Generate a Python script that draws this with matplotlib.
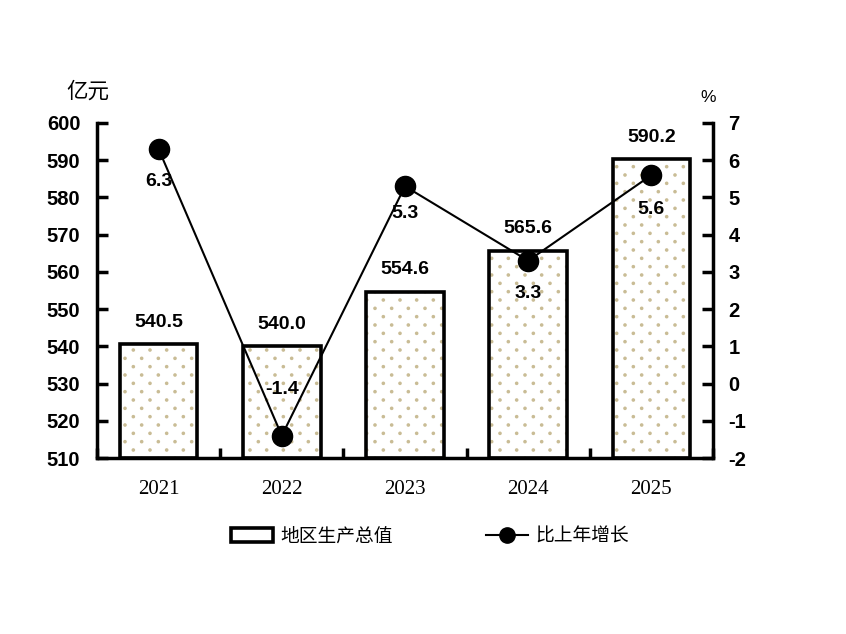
import matplotlib
matplotlib.use("Agg")
import matplotlib.pyplot as plt
from matplotlib.patches import Patch
from matplotlib.lines import Line2D
from matplotlib.path import Path
import matplotlib.hatch as mhatch
import numpy as np

years = ["2021", "2022", "2023", "2024", "2025"]
gdp = [540.5, 540.0, 554.6, 565.6, 590.2]
growth = [6.3, -1.4, 5.3, 3.3, 5.6]
left_ticks = [510, 520, 530, 540, 550, 560, 570, 580, 590, 600]
right_ticks = [-2, -1, 0, 1, 2, 3, 4, 5, 6, 7]
growth_offsets = [-32, 46, -27, -33, -34]  # label offsets in px (negative = below)


# custom staggered small-dot hatch for '.' (6 columns, 12 staggered rows per unit)
class _StaggeredDots(mhatch.HatchPatternBase):
    filled = True
    radius = 0.011

    def __init__(self, hatch, density):
        n = hatch.count('.')
        self.ncols = 6 * n
        self.nrows = 12 * n
        circ = Path.unit_circle()
        self.shape_vertices = circ.vertices
        self.shape_codes = circ.codes
        if n == 0:
            self.num_vertices = 0
            self.num_shapes = 0
        else:
            even = self.nrows // 2 + 1
            odd = self.nrows // 2
            self.num_shapes = even * (self.ncols + 1) + odd * self.ncols
            self.num_vertices = self.num_shapes * len(self.shape_vertices)

    def set_vertices_and_codes(self, vertices, codes):
        sv = self.shape_vertices * self.radius
        size = len(sv)
        cstep = 1.0 / self.ncols
        rstep = 1.0 / self.nrows
        cursor = 0
        for row in range(self.nrows + 1):
            if row % 2 == 0:
                cols = np.linspace(0, 1, self.ncols + 1)
            else:
                cols = np.linspace(cstep / 2, 1 - cstep / 2, self.ncols)
            for c in cols:
                vertices[cursor:cursor + size] = sv + (c, row * rstep)
                codes[cursor:cursor + size] = self.shape_codes
                cursor += size


try:
    mhatch._hatch_types = [(_StaggeredDots if t is mhatch.SmallFilledCircles else t)
                           for t in mhatch._hatch_types]
except Exception:
    pass

fig = plt.figure(figsize=(8.46, 6.34), dpi=100)
ax = fig.add_axes([97/846, 1-458/634, (713-97)/846, (458-123)/634])
ax2 = ax.twinx()

x = np.arange(len(years))
hatch_col = '#c9bc95'
# hatch fill
ax.bar(x, [g - 510 for g in gdp], bottom=510, width=0.63, facecolor='white',
       edgecolor=hatch_col, linewidth=0, hatch='.', zorder=2)
# outline
ax.bar(x, [g - 510 for g in gdp], bottom=510, width=0.63, facecolor='none',
       edgecolor='black', linewidth=2.6, zorder=3)

ax.set_xlim(-0.5, 4.5)
ax.set_ylim(510, 600)
ax.set_yticks(left_ticks)
ax.set_yticklabels([str(v) for v in left_ticks], fontfamily='Liberation Sans',
                   fontweight='bold', fontsize=14.5)
ax.set_xticks(x)
ax.set_xticklabels(years, fontfamily='Liberation Serif', fontsize=15)
ax.set_xticks(np.arange(-0.5, 5, 1.0), minor=True)
ax.tick_params(axis='x', which='major', length=0, pad=16)
ax.tick_params(axis='x', which='minor', direction='in', length=7, width=2.5)
ax.tick_params(axis='y', direction='in', length=8, width=2.5, pad=12)

for sp in ['top']:
    ax.spines[sp].set_visible(False)
    ax2.spines[sp].set_visible(False)
ax.spines['left'].set_linewidth(2.5)
ax.spines['bottom'].set_linewidth(2.5)
ax2.spines['right'].set_linewidth(2.5)
ax2.spines['left'].set_visible(False)
ax2.spines['bottom'].set_visible(False)

for xi, v in zip(x, gdp):
    ax.annotate(f"{v:.1f}", (xi, v), xytext=(0, 16), textcoords='offset points',
                ha='center', va='center', fontfamily='Liberation Sans',
                fontweight='bold', fontsize=14, zorder=6)

ax2.plot(x, growth, color='black', linewidth=1.5, marker='o', markersize=14.5,
         markerfacecolor='black', markeredgecolor='black', zorder=5)
ax2.set_ylim(-2, 7)
ax2.set_yticks(right_ticks)
ax2.set_yticklabels([str(v) for v in right_ticks], fontfamily='Liberation Sans',
                    fontweight='bold', fontsize=14.5)
ax2.tick_params(axis='y', direction='in', length=8, width=2.5, pad=11)

for xi, v, off in zip(x, growth, growth_offsets):
    ax2.annotate(f"{v:.1f}", (xi, v), xytext=(0, off * 0.72), textcoords='offset points',
                 ha='center', va='center', fontfamily='Liberation Sans',
                 fontweight='bold', fontsize=14, zorder=6)

ax.set_zorder(1)
ax2.set_zorder(2)
ax2.patch.set_visible(False)

fig.text(88/846, 1-92/634, "亿元", ha='center', va='center',
         fontfamily=['Noto Sans CJK SC', 'DejaVu Sans'], fontsize=15.5)
fig.text(708/846, 1-98/634, "%", ha='center', va='center',
         fontfamily='Liberation Sans', fontsize=12.5)

handles = [
    Patch(facecolor='white', edgecolor='black', linewidth=2.6),
    Line2D([0], [0], color='black', linewidth=1.5, marker='o', markersize=11),
]
leg = fig.legend(handles, ["地区生产总值", "比上年增长"], loc='center',
                 bbox_to_anchor=(430/846, 1-536/634), ncol=2, frameon=False,
                 prop={'family': ['Noto Sans CJK SC', 'DejaVu Sans'], 'size': 13.5},
                 handlelength=2.2, handletextpad=0.4, columnspacing=5.0)

fig.savefig("out.png", dpi=100)
